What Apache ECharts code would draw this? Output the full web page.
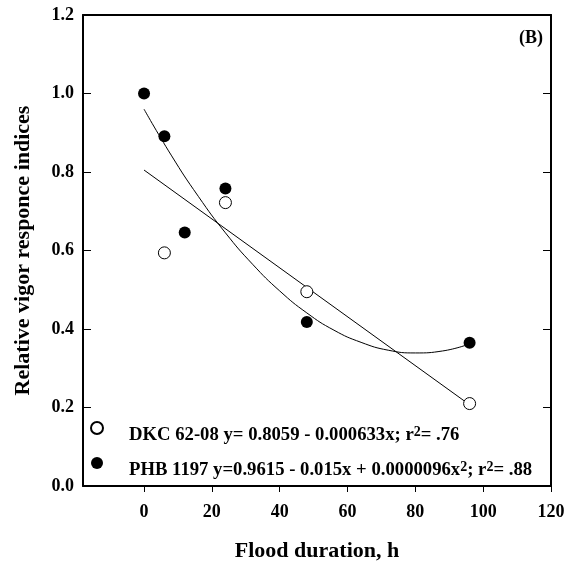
<!DOCTYPE html>
<html>
<head>
<meta charset="utf-8">
<script src="https://cdn.jsdelivr.net/npm/echarts@6/dist/echarts.min.js"></script>
<style>
  html, body { margin: 0; padding: 0; background: #fff; }
  #main { width: 569px; height: 564px; }
</style>
</head>
<body>
<div id="main"></div>
<script>
const xTicks = [0, 20, 40, 60, 80, 100, 120];

// DKC 62-08 (open circles)
const dkcHours = [6, 24, 48, 96];
const dkcValues = [0.594, 0.722, 0.495, 0.210];
// PHB 1197 (filled circles)
const phbHours = [0, 6, 12, 24, 48, 96];
const phbValues = [1.0, 0.891, 0.646, 0.758, 0.418, 0.365];

// fitted lines
const dkcFitHours = [0, 96];
const dkcFitValues = [0.805, 0.207];
const phbFitHours = [0, 8, 16, 24, 32, 40, 48, 56, 64, 72, 80, 88, 96];
const phbFitValues = [0.960, 0.843, 0.738, 0.645, 0.565, 0.497, 0.441,
  0.397, 0.366, 0.346, 0.339, 0.344, 0.362];

const legendText = {
  'DKC 62-08': 'DKC 62-08 y= 0.8059 - 0.000633x; r{s|2}= .76',
  'PHB 1197': 'PHB 1197 y=0.9615 - 0.015x + 0.0000096x{s|2}; r{s|2}= .88',
};

const font = 'Liberation Serif';
const pairs = (xs, ys) => xs.map((x, i) => [x, ys[i]]);

const chart = echarts.init(document.getElementById('main'));
const option = {
  animation: false,
  backgroundColor: '#fff',
  grid: { left: 83, right: 18, top: 15, bottom: 78, outerBoundsMode: 'none' },
  legend: {
    data: ['DKC 62-08', 'PHB 1197'],
    orient: 'vertical',
    left: 90,
    top: 411,
    padding: 0,
    itemGap: 1,
    itemWidth: 54,
    itemHeight: 12,
    formatter: (name) => legendText[name],
    textStyle: {
      fontFamily: font,
      fontWeight: 'bold',
      fontSize: 18.7,
      color: '#000',
      lineHeight: 20,
      padding: [14, 0, 0, 0],
      rich: {
        s: { fontFamily: font, fontWeight: 'bold', fontSize: 14, color: '#000', lineHeight: 20, verticalAlign: 'bottom', padding: [0, 0, 6, 0] },
      },
    },
  },
  graphic: [
    {
      type: 'text',
      right: 26,
      top: 29,
      style: { text: '(B)', font: 'bold 18px "Liberation Serif"', fill: '#000' },
    },
  ],
  xAxis: [
    {
      type: 'value',
      min: -18,
      max: 120,
      name: 'Flood duration, h',
      nameLocation: 'middle',
      nameGap: 54,
      nameTextStyle: { fontFamily: font, fontWeight: 'bold', fontSize: 22, color: '#000' },
      splitLine: { show: false },
      axisLine: { show: true, onZero: false, lineStyle: { color: '#000', width: 2 } },
      axisTick: { show: true, inside: false, length: 6, customValues: xTicks, lineStyle: { color: '#000' } },
      axisLabel: { customValues: xTicks, margin: 17, fontFamily: font, fontWeight: 'bold', fontSize: 18, color: '#000' },
    },
    {
      type: 'value',
      position: 'top',
      min: -18,
      max: 120,
      splitLine: { show: false },
      axisLine: { show: true, onZero: false, lineStyle: { color: '#000', width: 2 } },
      axisTick: { show: false },
      axisLabel: { show: false },
    },
  ],
  yAxis: [
    {
      type: 'value',
      min: 0,
      max: 1.2,
      interval: 0.2,
      name: 'Relative vigor responce indices',
      nameLocation: 'middle',
      nameGap: 49,
      nameTextStyle: { fontFamily: font, fontWeight: 'bold', fontSize: 22, color: '#000' },
      splitLine: { show: false },
      axisLine: { show: true, onZero: false, lineStyle: { color: '#000', width: 2 } },
      axisTick: { show: true, inside: true, length: 8, lineStyle: { color: '#000' } },
      axisLabel: {
        margin: 9,
        fontFamily: font,
        fontWeight: 'bold',
        fontSize: 18,
        color: '#000',
        formatter: (v) => v.toFixed(1),
      },
    },
    {
      type: 'value',
      position: 'right',
      min: 0,
      max: 1.2,
      interval: 0.2,
      splitLine: { show: false },
      axisLine: { show: true, onZero: false, lineStyle: { color: '#000', width: 2 } },
      axisTick: { show: true, inside: true, length: 8, lineStyle: { color: '#000' } },
      axisLabel: { show: false },
    },
  ],
  series: [
    {
      name: 'DKC fit',
      type: 'line',
      data: pairs(dkcFitHours, dkcFitValues),
      showSymbol: false,
      lineStyle: { color: '#000', width: 1 },
      z: 2,
    },
    {
      name: 'PHB fit',
      type: 'line',
      smooth: true,
      data: pairs(phbFitHours, phbFitValues),
      showSymbol: false,
      lineStyle: { color: '#000', width: 1 },
      z: 2,
    },
    {
      name: 'DKC 62-08',
      type: 'scatter',
      data: pairs(dkcHours, dkcValues),
      symbol: 'circle',
      symbolSize: 12,
      itemStyle: { color: '#fff', borderColor: '#000', borderWidth: 1, opacity: 1 },
      z: 3,
    },
    {
      name: 'PHB 1197',
      type: 'scatter',
      data: pairs(phbHours, phbValues),
      symbol: 'circle',
      symbolSize: 12,
      itemStyle: { color: '#000', opacity: 1 },
      z: 3,
    },
  ],
};
chart.setOption(option);
</script>
</body>
</html>
